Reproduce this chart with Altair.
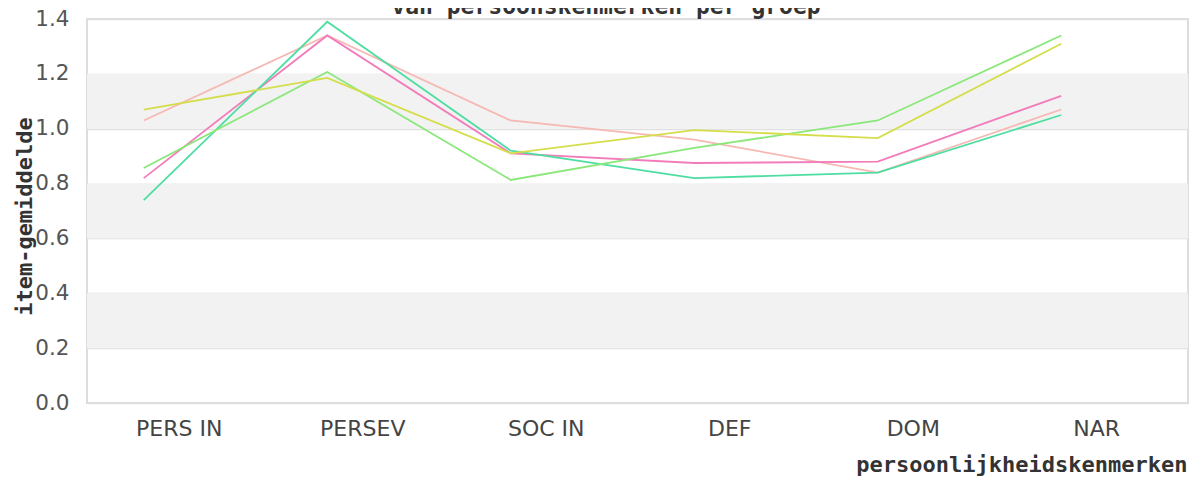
import altair as alt
import pandas as pd

title_text = ["van persoonskenmerken per groep"]
categories = ["PERS IN", "PERSEV", "SOC IN", "DEF", "DOM", "NAR"]
groups = ["groep 1", "groep 2", "groep 3", "groep 4", "groep 5"]
groep_1 = [1.03, 1.34, 1.03, 0.96, 0.84, 1.07]
groep_2 = [0.82, 1.34, 0.91, 0.875, 0.88, 1.12]
groep_3 = [0.74, 1.39, 0.92, 0.82, 0.84, 1.05]
groep_4 = [0.857, 1.207, 0.813, 0.93, 1.03, 1.34]
groep_5 = [1.07, 1.185, 0.91, 0.995, 0.966, 1.31]
colors = ["#f6b8b2", "#f27cba", "#4fdea2", "#8ae87a", "#d4de4a"]
band_low = [0.2, 0.6, 1.0]
band_high = [0.4, 0.8, 1.2]
y_ticks = [0.0, 0.2, 0.4, 0.6, 0.8, 1.0, 1.2, 1.4]

rows = []
for g, vals in zip(groups, [groep_1, groep_2, groep_3, groep_4, groep_5]):
    for c, v in zip(categories, vals):
        rows.append({"kenmerk": c, "groep": g, "waarde": v})
df = pd.DataFrame(rows)
bands = pd.DataFrame({"lo": band_low, "hi": band_high})
titles = pd.DataFrame({"t": title_text})

yscale = alt.Scale(domain=[0, 1.4], nice=False, zero=True)
xscale = alt.Scale(type="point", padding=0.5, domain=categories)

band_layer = alt.Chart(bands).mark_rect(color="#f2f2f2").encode(
    y=alt.Y("lo:Q", scale=yscale),
    y2="hi:Q",
)

title_layer = alt.Chart(titles).mark_text(
    font="DejaVu Sans Mono",
    fontSize=23,
    fontWeight="bold",
    color="#333333",
    align="center",
    baseline="alphabetic",
).encode(
    text="t:N",
    x=alt.value(519),
    y=alt.value(-5),
)

lines = alt.Chart(df).mark_line(strokeWidth=1.8, xOffset=-35).encode(
    x=alt.X(
        "kenmerk:N",
        sort=categories,
        scale=xscale,
        axis=alt.Axis(
            title="persoonlijkheidskenmerken",
            ticks=False,
            domain=False,
            labelAngle=0,
            labelFont="DejaVu Sans",
            labelFontSize=22,
            labelColor="#444444",
            labelPadding=15,
            titleFont="DejaVu Sans Mono",
            titleFontSize=22,
            titleFontWeight="bold",
            titleColor="#333333",
            titleX=1100,
            titleY=61,
            titleAlign="right",
            titleBaseline="middle",
        ),
    ),
    y=alt.Y(
        "waarde:Q",
        scale=yscale,
        axis=alt.Axis(
            title="item-gemiddelde",
            values=y_ticks,
            format=".1f",
            ticks=False,
            domain=False,
            grid=True,
            gridColor="#e0e0e0",
            gridWidth=1.5,
            labelFont="DejaVu Sans",
            labelFontSize=21.5,
            labelColor="#555555",
            labelPadding=18,
            titleFont="DejaVu Sans Mono",
            titleFontSize=22,
            titleFontWeight="bold",
            titleColor="#333333",
            titleAngle=270,
            titleX=-63,
            titleY=197,
            titleAlign="center",
            titleBaseline="middle",
        ),
    ),
    color=alt.Color(
        "groep:N",
        scale=alt.Scale(domain=groups, range=colors),
        legend=None,
    ),
)

chart = (
    alt.layer(band_layer, lines, title_layer)
    .properties(
        width=1101,
        height=384,
        autosize=alt.AutoSizeParams(type="none"),
        padding={"left": 79, "top": 11, "right": 2, "bottom": 75},
    )
    .configure_view(stroke="#dddddd", strokeWidth=2)
)

chart.save("out.html", embed_options={"renderer": "svg", "actions": False})
